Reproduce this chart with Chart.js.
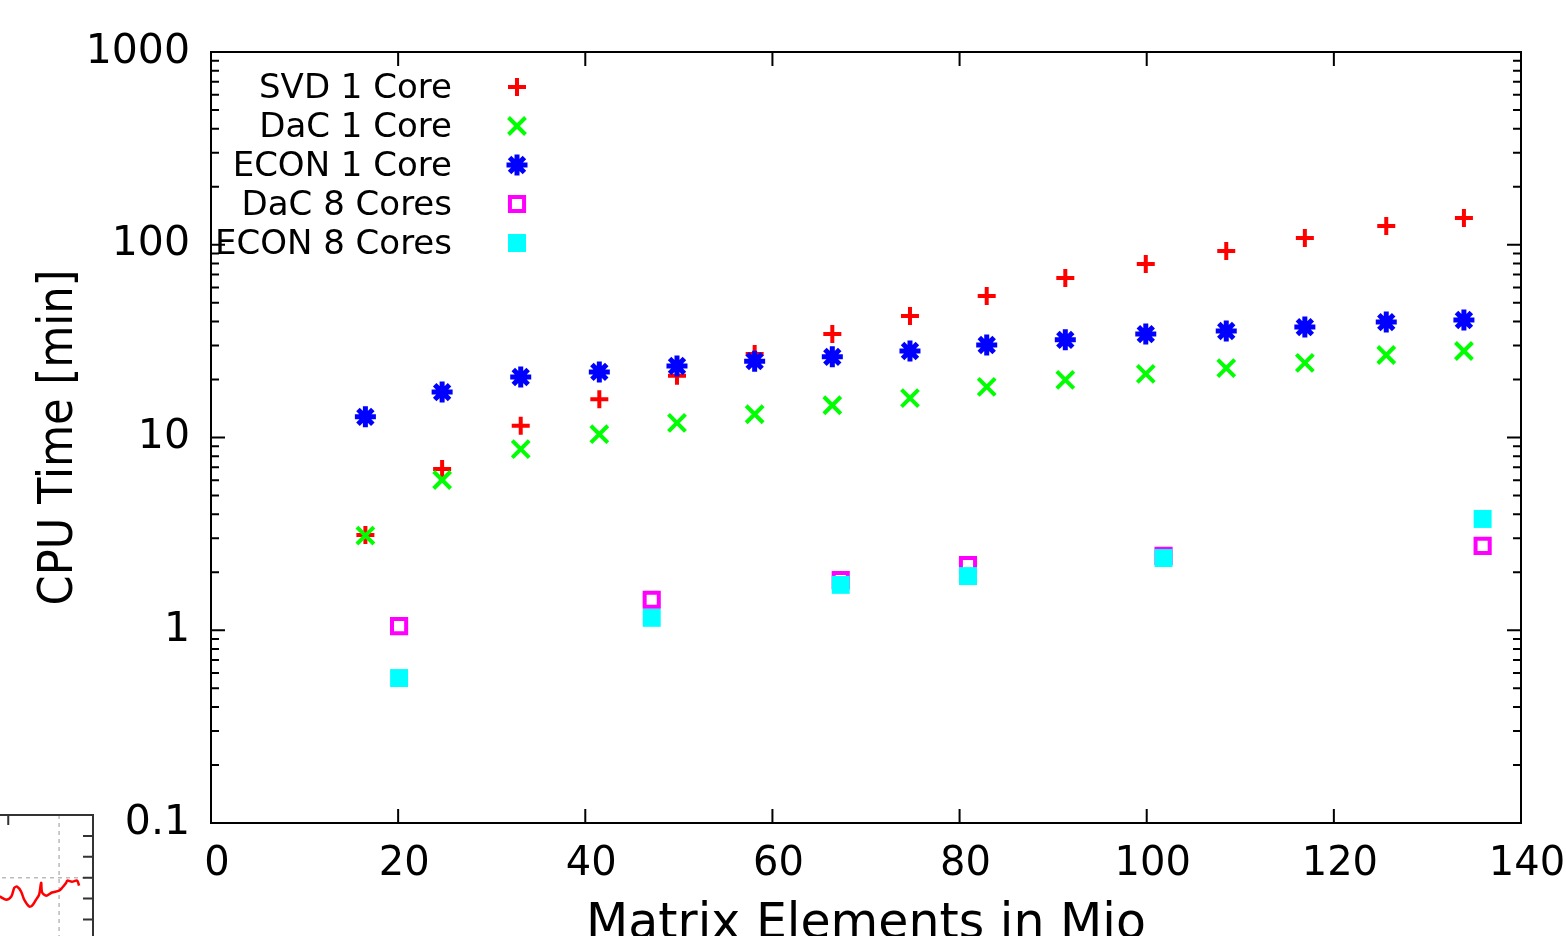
<!DOCTYPE html>
<html>
<head>
<meta charset="utf-8">
<script src="https://cdn.jsdelivr.net/npm/chart.js@4.4.1/dist/chart.umd.min.js"></script>
<style>
html,body{margin:0;padding:0;background:#fff;overflow:hidden}
#main{position:absolute;left:0;top:0}
#inset{position:absolute;left:0;top:0;width:94px;height:936px;overflow:hidden}
#mini{position:absolute;left:-246px;top:814px}
</style>
</head>
<body>
<canvas id="main" width="1566" height="936"></canvas>
<div id="inset"><canvas id="mini" width="340" height="210"></canvas></div>
<script>
// matrix sizes (million elements)
const SIZE_1CORE = [16.5,24.7,33.1,41.5,49.8,58.1,66.4,74.7,82.9,91.3,99.9,108.5,116.9,125.6,133.9];
const SIZE_8CORE = [20.1,47.1,67.3,80.9,101.8,135.9];

// CPU time in minutes
const SVD_1 = [3.12,6.87,11.5,15.8,20.9,27.1,34.4,42.7,54.2,67.3,79.4,92.8,108.4,125,137.6];
const DAC_1 = [3.1,6.02,8.71,10.4,11.9,13.2,14.7,16.0,18.3,19.9,21.4,22.9,24.4,26.8,28.1];
const ECON_1 = [12.8,17.2,20.6,21.9,23.5,24.9,26.2,28.1,30.2,32.1,34.4,35.7,37.4,39.7,40.7];
const DAC_8 = [1.05,1.44,1.82,2.18,2.43,2.74];
const ECON_8 = [0.565,1.16,1.72,1.91,2.37,3.78];

const X_TICKS = [0,20,40,60,80,100,120,140];
const Y_TICKS = [0.1,1,10,100,1000];
const Y_TICK_LABELS = ['0.1','1','10','100','1000'];

// small neighbouring plot peeking in at the lower left
const MINI_X = [70,72.4,74.4,75.9,76.8,77.6,78.8,79.7,81.2,82.1,83.2,84.1,84.7,85,86.2,87.9,90,90.9,92.1,92.4,93.8,95.3,95.9];
const MINI_Y = [6.1,6.1,5.95,6.1,6.52,6.57,6.33,5.95,5.62,5.67,5.95,6.19,6.76,6.29,6.14,6.29,6.38,6.52,6.76,6.86,6.81,6.86,6.62];
const MINI_GRID_X = [90];
const MINI_GRID_Y = [7];
const MINI_TICK_X = [75];
const MINI_TICK_Y = [5,6,7,8,9];

Chart.defaults.font.family = "'DejaVu Sans', sans-serif";
Chart.defaults.color = '#000';

const pts = (xs, ys) => xs.map((x, i) => ({x, y: ys[i]}));

// inward ticks on all four sides plus the box, gnuplot style
const frame = {
  id: 'frame',
  beforeDatasetsDraw(chart) {
    const {ctx, chartArea: a, scales: {x, y}} = chart;
    ctx.save();
    ctx.strokeStyle = '#000';
    ctx.lineWidth = 2;
    ctx.beginPath();
    X_TICKS.forEach(v => {
      const px = x.getPixelForValue(v);
      ctx.moveTo(px, a.bottom); ctx.lineTo(px, a.bottom - 14);
      ctx.moveTo(px, a.top); ctx.lineTo(px, a.top + 14);
    });
    Y_TICKS.forEach(d => {
      for (let m = 1; m <= 9; m++) {
        const v = d * m;
        if (v > 1000.0001) break;
        const py = y.getPixelForValue(v);
        const len = m === 1 ? 14 : 8;
        ctx.moveTo(a.left, py); ctx.lineTo(a.left + len, py);
        ctx.moveTo(a.right, py); ctx.lineTo(a.right - len, py);
      }
    });
    ctx.stroke();
    ctx.strokeRect(a.left, a.top, a.right - a.left, a.bottom - a.top);
    ctx.restore();
  }
};

// key in the upper left: text right-aligned, symbol to its right
const keyBox = {
  id: 'keyBox',
  afterDraw(chart) {
    const {ctx, chartArea: a} = chart;
    ctx.save();
    ctx.font = "34px 'DejaVu Sans'";
    ctx.textAlign = 'right';
    ctx.textBaseline = 'middle';
    chart.data.datasets.forEach((ds, i) => {
      const yy = a.top + 35 + i * 39;
      ctx.fillStyle = '#000';
      ctx.fillText(ds.label, a.left + 241, yy + 2);
      ctx.fillStyle = ds.backgroundColor;
      ctx.strokeStyle = ds.borderColor;
      ctx.lineWidth = ds.borderWidth;
      Chart.helpers.drawPoint(ctx, {pointStyle: ds.pointStyle, radius: ds.pointRadius, borderWidth: ds.borderWidth, rotation: 0}, a.left + 306, yy);
    });
    ctx.restore();
  }
};

new Chart(document.getElementById('main'), {
  type: 'scatter',
  data: {
    datasets: [
      {label: 'SVD 1 Core', data: pts(SIZE_1CORE, SVD_1), pointStyle: 'cross', pointRadius: 9,
       borderColor: '#ff0000', backgroundColor: '#ff0000', borderWidth: 4, order: 5},
      {label: 'DaC 1 Core', data: pts(SIZE_1CORE, DAC_1), pointStyle: 'crossRot', pointRadius: 12,
       borderColor: '#00ff00', backgroundColor: '#00ff00', borderWidth: 4, order: 4},
      {label: 'ECON 1 Core', data: pts(SIZE_1CORE, ECON_1), pointStyle: 'star', pointRadius: 10.5,
       borderColor: '#0000ff', backgroundColor: '#0000ff', borderWidth: 5, order: 3},
      {label: 'DaC 8 Cores', data: pts(SIZE_8CORE, DAC_8), pointStyle: 'rect', pointRadius: 10,
       borderColor: '#ff00ff', backgroundColor: 'rgba(0,0,0,0)', borderWidth: 4, order: 2},
      {label: 'ECON 8 Cores', data: pts(SIZE_8CORE, ECON_8), pointStyle: 'rect', pointRadius: 12.7,
       borderColor: '#00ffff', backgroundColor: '#00ffff', borderWidth: 0, order: 1}
    ]
  },
  options: {
    responsive: false,
    animation: false,
    events: [],
    layout: {padding: {left: 0, top: 52, right: 45, bottom: 0}},
    plugins: {legend: {display: false}, tooltip: {enabled: false}},
    scales: {
      x: {
        type: 'linear', min: 0, max: 140,
        afterBuildTicks: s => { s.ticks = X_TICKS.map(v => ({value: v})); },
        grid: {display: false, drawTicks: false},
        border: {display: false},
        ticks: {font: {size: 40}, color: '#000', padding: 18, labelOffset: 6, maxRotation: 0, autoSkip: false},
        title: {display: true, text: 'Matrix Elements in Mio', font: {size: 49}, color: '#000', padding: {top: 0, bottom: -19}},
        afterFit: s => { s.height = 113; s.paddingLeft = 0; s.paddingRight = 0; }
      },
      y: {
        type: 'logarithmic', min: 0.1, max: 1000,
        afterBuildTicks: s => { s.ticks = Y_TICKS.map(v => ({value: v})); },
        grid: {display: false, drawTicks: false},
        border: {display: false},
        ticks: {font: {size: 41}, color: '#000', padding: 21, autoSkip: false,
                callback: v => Y_TICK_LABELS[Y_TICKS.indexOf(v)] ?? ''},
        title: {display: true, text: 'CPU Time [min]', color: '#000',
                font: {family: "'DejaVu Sans Condensed', 'DejaVu Sans'", size: 48}, padding: {top: 31, bottom: 0}},
        afterFit: s => { s.width = 211; s.paddingTop = 0; s.paddingBottom = 0; }
      }
    }
  },
  plugins: [frame, keyBox]
});

// frame, ticks and dashed grid of the small plot
const miniFrame = {
  id: 'miniFrame',
  beforeDatasetsDraw(chart) {
    const {ctx, chartArea: a, scales: {x, y}} = chart;
    ctx.save();
    ctx.strokeStyle = '#bbbbbb';
    ctx.lineWidth = 1.5;
    ctx.setLineDash([4, 4]);
    ctx.beginPath();
    MINI_GRID_X.forEach(v => { const px = x.getPixelForValue(v); ctx.moveTo(px, a.top); ctx.lineTo(px, a.bottom); });
    MINI_GRID_Y.forEach(v => { const py = y.getPixelForValue(v); ctx.moveTo(a.left, py); ctx.lineTo(a.right, py); });
    ctx.stroke();
    ctx.setLineDash([]);
    ctx.strokeStyle = '#333';
    ctx.lineWidth = 2;
    ctx.beginPath();
    ctx.moveTo(a.left, a.top); ctx.lineTo(a.right, a.top); ctx.lineTo(a.right, a.bottom);
    MINI_TICK_X.forEach(v => { const px = x.getPixelForValue(v); ctx.moveTo(px, a.top); ctx.lineTo(px, a.top + 10); });
    MINI_TICK_Y.forEach(v => { const py = y.getPixelForValue(v); ctx.moveTo(a.right, py); ctx.lineTo(a.right - 10, py); });
    ctx.stroke();
    ctx.restore();
  }
};

new Chart(document.getElementById('mini'), {
  type: 'line',
  data: {datasets: [{data: pts(MINI_X, MINI_Y), borderColor: '#ff0000', borderWidth: 2.5, pointRadius: 0, tension: 0.3}]},
  options: {
    responsive: false,
    animation: false,
    events: [],
    layout: {padding: {top: 1, right: 1, left: 0, bottom: 0}},
    plugins: {legend: {display: false}, tooltip: {enabled: false}},
    scales: {
      x: {type: 'linear', min: 0, max: 100, display: false},
      y: {type: 'linear', min: 0, max: 10, display: false}
    }
  },
  plugins: [miniFrame]
});
</script>
</body>
</html>
